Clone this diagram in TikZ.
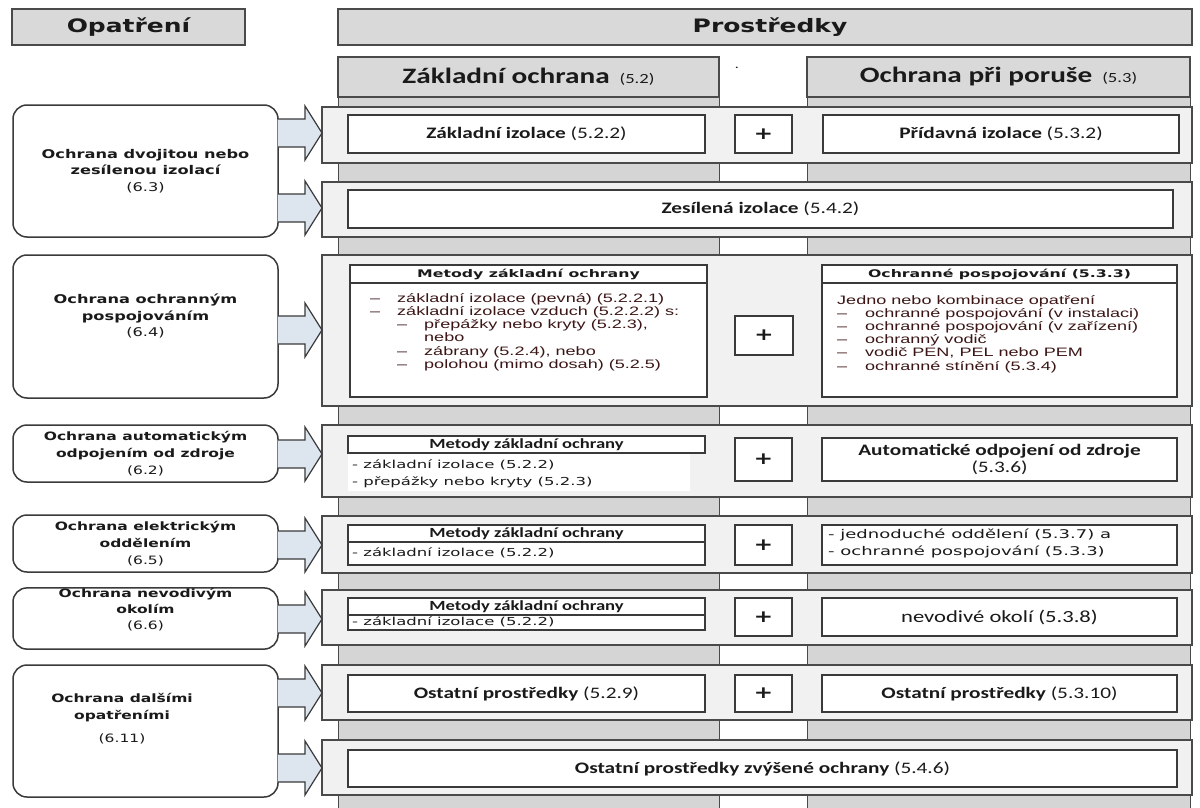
\documentclass[tikz,border=0pt]{standalone}
\usepackage{fontspec}
\newfontfamily\fHead{DejaVu Sans}[FakeStretch=1.35]
\newfontfamily\fWide{DejaVu Sans}[FakeStretch=1.5]
\newfontfamily\fCal{Carlito}[FakeStretch=1.33]
\newfontfamily\fAri{Liberation Sans}[FakeStretch=1.48]
\newcommand\fsz[2]{\fontsize{#1}{#2}\selectfont}
\definecolor{lineC}{HTML}{4A4A4A}
\definecolor{colC}{HTML}{D5D5D5}
\definecolor{hdrC}{HTML}{D9D9D9}
\definecolor{bandC}{HTML}{F1F1F1}
\definecolor{boxC}{HTML}{3A3A3A}
\definecolor{arrC}{HTML}{DDE5EF}
\definecolor{txtC}{HTML}{1A1A1A}
\newcommand\num[1]{{\mdseries(#1)}}

\tikzset{
  colbg/.style={fill=colC, draw=lineC, line width=1.4pt, inner sep=0pt, anchor=north west},
  hdrbox/.style={fill=hdrC, draw=lineC, line width=1.4pt, inner sep=0pt, text=txtC},
  band/.style={fill=bandC, draw=lineC, line width=1.4pt, inner sep=0pt},
  ibox/.style={fill=white, draw=boxC, line width=1.5pt, inner sep=0pt, align=center, text=txtC,
    font=\fCal\fsz{16}{18}},
  plusbox/.style={ibox, font=\fHead\bfseries\fsz{17}{17}},
  opnode/.style={fill=white, draw=boxC, line width=1.5pt, rounded corners=14pt, inner sep=0pt,
    align=center, text=txtC, font=\fHead\bfseries\fsz{12}{16.5}},
  blockarr/.style={fill=arrC, draw=boxC, line width=1.2pt, line join=miter},
  listA/.style={anchor=west, inner sep=0pt, text height=9pt, text depth=3pt,
    font=\fAri\fsz{12.2}{13.2}, text=txtC!85!red},
  listD/.style={anchor=west, inner sep=0pt, text height=8pt, text depth=2.5pt,
    font=\fWide\fsz{11}{13}, text=txtC},
  listE/.style={listD, font=\fWide\fsz{12}{14}},
  mhead/.style={inner sep=0pt, text=txtC, font=\fWide\bfseries\fsz{10.5}{12}},
  mheadB/.style={inner sep=0pt, text=txtC, font=\fCal\bfseries\fsz{14}{16}},
}

\begin{document}
\begin{tikzpicture}[x=1pt,y=-1pt]
\useasboundingbox (0,0) rectangle (1200,808);
\fill[white] (0,0) rectangle (1200,808);

% column backgrounds
\node[colbg, minimum width=381, minimum height=730] (c1) at (338,97) {};
\node[colbg, minimum width=383, minimum height=730] (c2) at (807,97) {};

% top headers
\node[hdrbox, minimum width=233, minimum height=36, font=\fHead\bfseries\fsz{18.5}{22}] (h1) at (128.5,27) {Opatření};
\node[hdrbox, minimum width=854, minimum height=36] (h2) at (765,27) {};
\node[text=txtC, inner sep=0pt, font=\fHead\bfseries\fsz{18.5}{22}] (h2t) at (770,27) {Prostředky};
\node[hdrbox, minimum width=381, minimum height=40, font=\fCal\bfseries\fsz{22}{24}] (hz) at (528.5,77)
  {Základní ochrana\hspace{10pt}{\mdseries\fsz{14}{16}(5.2)}};
\node[hdrbox, minimum width=383, minimum height=40, font=\fCal\bfseries\fsz{22}{24}] (hp) at (998.5,77)
  {Ochrana při poruše\hspace{10pt}{\mdseries\fsz{14}{16}(5.3)}};
\node[inner sep=0pt, font=\fCal\fsz{12}{12}, text=txtC] (dot) at (737,68) {.};

% row bands
\node[band, minimum width=870, minimum height=56] (b1) at (757,135) {};
\node[band, minimum width=870, minimum height=55] (b2) at (757,209.5) {};
\node[band, minimum width=870, minimum height=151] (b3) at (757,330.5) {};
\node[band, minimum width=870, minimum height=72] (b4) at (757,461) {};
\node[band, minimum width=870, minimum height=57] (b5) at (757,544.5) {};
\node[band, minimum width=870, minimum height=55] (b6) at (757,617.5) {};
\node[band, minimum width=870, minimum height=55] (b7) at (757,692.5) {};
\node[band, minimum width=870, minimum height=55] (b8) at (757,767.5) {};

% row 1
\node[ibox, minimum width=357, minimum height=38] (r1l) at (526.5,134) {\textbf{Základní izolace} \num{5.2.2}};
\node[plusbox, minimum width=57, minimum height=38] (r1p) at (763.5,134) {+};
\node[ibox, minimum width=356, minimum height=38] (r1r) at (1001,134) {\textbf{Přídavná izolace} \num{5.3.2}};
% row 2
\node[ibox, minimum width=825, minimum height=38] (r2) at (760.5,209) {\textbf{Zesílená izolace} \num{5.4.2}};
% row 3
\node[ibox, minimum width=357, minimum height=132] (r3l) at (528.5,331) {};
\draw[boxC, line width=1.5pt] (350,283) -- (707,283);
\node[mhead] (r3lh) at (528.5,274) {Metody základní ochrany};
\node[plusbox, minimum width=58, minimum height=39] (r3p) at (764,335.5) {+};
\node[ibox, minimum width=355, minimum height=132] (r3r) at (999.5,331) {};
\draw[boxC, line width=1.5pt] (822,283) -- (1177,283);
\node[mhead] (r3rh) at (999.5,274) {Ochranné pospojování (5.3.3)};

\node[listA] (d31) at (370,299) {–};
\node[listA] (t31) at (397,299) {základní izolace (pevná) (5.2.2.1)};
\node[listA] (d32) at (370,312) {–};
\node[listA] (t32) at (397,312) {základní izolace vzduch (5.2.2.2) s:};
\node[listA] (d33) at (397,325) {–};
\node[listA] (t33) at (424,325) {přepážky nebo kryty (5.2.3),};
\node[listA] (t34) at (424,338) {nebo};
\node[listA] (d35) at (397,352) {–};
\node[listA] (t35) at (424,352) {zábrany (5.2.4), nebo};
\node[listA] (d36) at (397,365) {–};
\node[listA] (t36) at (424,365) {polohou (mimo dosah) (5.2.5)};

\node[listA] (u31) at (837,301) {Jedno nebo kombinace opatření};
\node[listA] (e32) at (837,314) {–};
\node[listA] (u32) at (865,314) {ochranné pospojování (v instalaci)};
\node[listA] (e33) at (837,327) {–};
\node[listA] (u33) at (865,327) {ochranné pospojování (v zařízení)};
\node[listA] (e34) at (837,340) {–};
\node[listA] (u34) at (865,340) {ochranný vodič};
\node[listA] (e35) at (837,353) {–};
\node[listA] (u35) at (865,353) {vodič PEN, PEL nebo PEM};
\node[listA] (e36) at (837,367) {–};
\node[listA] (u36) at (865,367) {ochranné stínění (5.3.4)};

% row 4
\fill[white] (348,453) rectangle (690,491);
\node[ibox, minimum width=357, minimum height=17] (r4lh) at (526.5,444.5) {};
\node[mheadB] (r4lht) at (526.5,444.5) {Metody základní ochrany};
\node[listD] (t41) at (352,466) {- základní izolace (5.2.2)};
\node[listD] (t42) at (352,483) {- přepážky nebo kryty (5.2.3)};
\node[plusbox, minimum width=57, minimum height=43] (r4p) at (763.5,459.5) {+};
\node[ibox, minimum width=355, minimum height=43] (r4r) at (999.5,459.5)
  {\textbf{Automatické odpojení od zdroje}\\[-1pt]\num{5.3.6}};

% row 5
\node[ibox, minimum width=357, minimum height=40] (r5l) at (526.5,545) {};
\draw[boxC, line width=1.5pt] (348,542) -- (705,542);
\node[mheadB] (r5lh) at (526.5,533.5) {Metody základní ochrany};
\node[listD] (t51) at (352,554) {- základní izolace (5.2.2)};
\node[plusbox, minimum width=57, minimum height=40] (r5p) at (763.5,545) {+};
\node[ibox, minimum width=355, minimum height=40] (r5r) at (999.5,545) {};
\node[listE] (u51) at (828,536) {- jednoduché oddělení (5.3.7) a};
\node[listE] (u52) at (828,553) {- ochranné pospojování (5.3.3)};

% row 6
\node[ibox, minimum width=357, minimum height=32] (r6l) at (526.5,614) {};
\draw[boxC, line width=1.5pt] (348,615) -- (705,615);
\node[mheadB] (r6lh) at (526.5,606.5) {Metody základní ochrany};
\node[listD] (t61) at (352,623) {- základní izolace (5.2.2)};
\node[plusbox, minimum width=57, minimum height=38] (r6p) at (763.5,617) {+};
\node[ibox, minimum width=355, minimum height=38, font=\fCal\fsz{17}{19}] (r6r) at (999.5,617) {nevodivé okolí (5.3.8)};

% row 7
\node[ibox, minimum width=357, minimum height=37] (r7l) at (526.5,693.5) {\textbf{Ostatní prostředky} \num{5.2.9}};
\node[plusbox, minimum width=57, minimum height=37] (r7p) at (763.5,693.5) {+};
\node[ibox, minimum width=355, minimum height=37] (r7r) at (999.5,693.5) {\textbf{Ostatní prostředky} \num{5.3.10}};
% row 8
\node[ibox, minimum width=829, minimum height=37] (r8) at (762.5,768.5) {\textbf{Ostatní prostředky zvýšené ochrany} \num{5.4.6}};

% measures (left column)
\node[opnode, minimum width=265, minimum height=132] (n1) at (145.5,171)
  {Ochrana dvojitou nebo\\zesílenou izolací\\\num{6.3}};
\node[opnode, minimum width=265, minimum height=143] (n2) at (145.5,326.5)
  {Ochrana ochranným\\pospojováním\\\num{6.4}\\[6pt]};
\node[opnode, minimum width=265, minimum height=57, font=\fHead\bfseries\fsz{11.5}{17}] (n3) at (145.5,453.5)
  {Ochrana automatickým\\odpojením od zdroje\\\num{6.2}};
\node[opnode, minimum width=265, minimum height=57, font=\fHead\bfseries\fsz{11.5}{17}] (n4) at (145.5,543.5)
  {Ochrana elektrickým\\oddělením\\\num{6.5}};
\node[opnode, minimum width=265, minimum height=57, font=\fHead\bfseries\fsz{11.5}{16}] (n5) at (145.5,618.5)
  {Ochrana nevodivým\\okolím\\\num{6.6}\\[4pt]};
\node[opnode, minimum width=265, minimum height=132] (n6) at (145.5,731) {};
\node[inner sep=0pt, align=center, text=txtC, font=\fHead\bfseries\fsz{11.5}{17}] (n6t) at (122,719)
  {Ochrana dalšími\\opatřeními\\[6pt]\num{6.11}};

% block arrows from measures to means
\foreach \yy [count=\i] in {133,208,330,454,545,619,693,768}{
  \coordinate (a\i) at (278,\yy);
  \draw[blockarr] (a\i) ++(0,-14) -- ++(27,0) -- ++(0,-13) -- ++(17,27)
    -- ++(-17,27) -- ++(0,-13) -- ++(-27,0);
}
\end{tikzpicture}
\end{document}
